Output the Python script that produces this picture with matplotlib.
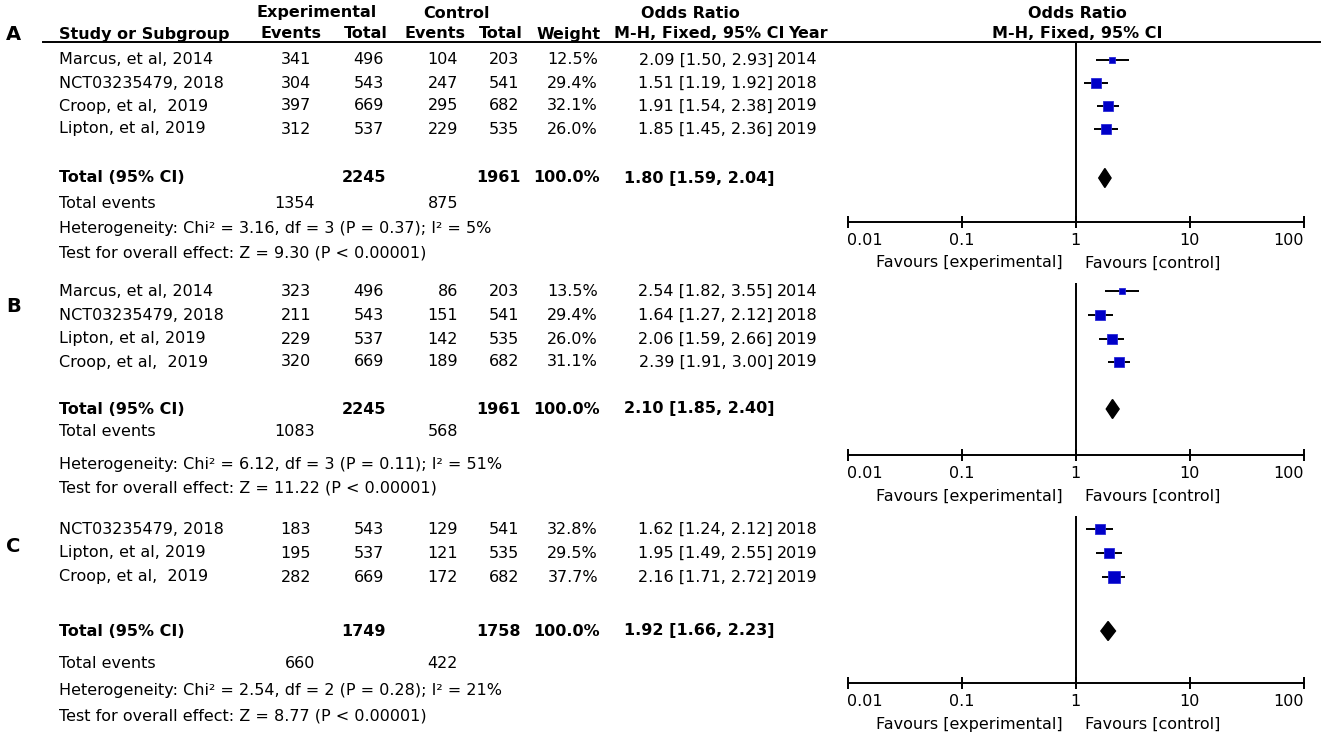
import matplotlib
matplotlib.use("Agg")
import matplotlib.pyplot as plt

# ---- data -------------------------------------------------------------
panel_labels = ["A", "B", "C"]

studies_a = ["Marcus, et al, 2014", "NCT03235479, 2018", "Croop, et al,  2019", "Lipton, et al, 2019"]
exp_events_a = [341, 304, 397, 312]
exp_total_a = [496, 543, 669, 537]
ctl_events_a = [104, 247, 295, 229]
ctl_total_a = [203, 541, 682, 535]
weight_a = [12.5, 29.4, 32.1, 26.0]
or_a = [2.09, 1.51, 1.91, 1.85]
lo_a = [1.50, 1.19, 1.54, 1.45]
hi_a = [2.93, 1.92, 2.38, 2.36]
year_a = [2014, 2018, 2019, 2019]
pooled_a = [1.80, 1.59, 2.04]
totals_a = [2245, 1961]
tot_events_a = [1354, 875]
het_a = "Heterogeneity: Chi² = 3.16, df = 3 (P = 0.37); I² = 5%"
test_a = "Test for overall effect: Z = 9.30 (P < 0.00001)"

studies_b = ["Marcus, et al, 2014", "NCT03235479, 2018", "Lipton, et al, 2019", "Croop, et al,  2019"]
exp_events_b = [323, 211, 229, 320]
exp_total_b = [496, 543, 537, 669]
ctl_events_b = [86, 151, 142, 189]
ctl_total_b = [203, 541, 535, 682]
weight_b = [13.5, 29.4, 26.0, 31.1]
or_b = [2.54, 1.64, 2.06, 2.39]
lo_b = [1.82, 1.27, 1.59, 1.91]
hi_b = [3.55, 2.12, 2.66, 3.00]
year_b = [2014, 2018, 2019, 2019]
pooled_b = [2.10, 1.85, 2.40]
totals_b = [2245, 1961]
tot_events_b = [1083, 568]
het_b = "Heterogeneity: Chi² = 6.12, df = 3 (P = 0.11); I² = 51%"
test_b = "Test for overall effect: Z = 11.22 (P < 0.00001)"

studies_c = ["NCT03235479, 2018", "Lipton, et al, 2019", "Croop, et al,  2019"]
exp_events_c = [183, 195, 282]
exp_total_c = [543, 537, 669]
ctl_events_c = [129, 121, 172]
ctl_total_c = [541, 535, 682]
weight_c = [32.8, 29.5, 37.7]
or_c = [1.62, 1.95, 2.16]
lo_c = [1.24, 1.49, 1.71]
hi_c = [2.12, 2.55, 2.72]
year_c = [2018, 2019, 2019]
pooled_c = [1.92, 1.66, 2.23]
totals_c = [1749, 1758]
tot_events_c = [660, 422]
het_c = "Heterogeneity: Chi² = 2.54, df = 2 (P = 0.28); I² = 21%"
test_c = "Test for overall effect: Z = 8.77 (P < 0.00001)"

ticks = [0.01, 0.1, 1, 10, 100]
tick_labels = ["0.01", "0.1", "1", "10", "100"]

panels = [
    dict(studies=studies_a, ee=exp_events_a, et=exp_total_a, ce=ctl_events_a, ct=ctl_total_a,
         w=weight_a, est=or_a, lo=lo_a, hi=hi_a, year=year_a, pooled=pooled_a,
         totals=totals_a, events=tot_events_a, het=het_a, test=test_a),
    dict(studies=studies_b, ee=exp_events_b, et=exp_total_b, ce=ctl_events_b, ct=ctl_total_b,
         w=weight_b, est=or_b, lo=lo_b, hi=hi_b, year=year_b, pooled=pooled_b,
         totals=totals_b, events=tot_events_b, het=het_b, test=test_b),
    dict(studies=studies_c, ee=exp_events_c, et=exp_total_c, ce=ctl_events_c, ct=ctl_total_c,
         w=weight_c, est=or_c, lo=lo_c, hi=hi_c, year=year_c, pooled=pooled_c,
         totals=totals_c, events=tot_events_c, het=het_c, test=test_c),
]

# ---- layout (pixels) --------------------------------------------------
W, H = 1325, 741
layout = [
    dict(letter_y=34, rows=[60, 83, 106, 129], total_y=178, events_y=204, het_y=229, test_y=253,
         top=42, axis_y=222),
    dict(letter_y=307, rows=[291, 315, 339, 362], total_y=409, events_y=432, het_y=464, test_y=488,
         top=283, axis_y=455),
    dict(letter_y=547, rows=[529, 553, 577], total_y=631, events_y=663, het_y=690, test_y=716,
         top=516, axis_y=683),
]
X_NAME = 59
X_EE, X_ET, X_CE, X_CT, X_W, X_OR, X_YEAR = 311, 384, 458, 519, 598, 773, 818
FX0, FX1 = 847.5, 1304
FS = 11.5
BLUE = "#0000C8"

plt.rcParams["font.family"] = ["DejaVu Sans"]
fig = plt.figure(figsize=(W / 100, H / 100), dpi=100)
ax = fig.add_axes([0, 0, 1, 1])
ax.set_xlim(0, W)
ax.set_ylim(H, 0)
ax.axis("off")


def txt(x, y, s, ha="left", bold=False, size=FS):
    ax.text(x, y, s, ha=ha, va="center", fontsize=size,
            fontweight="bold" if bold else "normal", color="black")


# header
txt(317, 13, "Experimental", ha="center", bold=True)
txt(457, 13, "Control", ha="center", bold=True)
txt(690, 13, "Odds Ratio", ha="center", bold=True)
txt(1077, 13, "Odds Ratio", ha="center", bold=True)
txt(X_NAME, 34, "Study or Subgroup", bold=True)
txt(321, 34, "Events", ha="right", bold=True)
txt(388, 34, "Total", ha="right", bold=True)
txt(466, 34, "Events", ha="right", bold=True)
txt(523, 34, "Total", ha="right", bold=True)
txt(601, 34, "Weight", ha="right", bold=True)
txt(784, 34, "M-H, Fixed, 95% CI", ha="right", bold=True)
txt(788, 34, "Year", bold=True)
txt(1077, 34, "M-H, Fixed, 95% CI", ha="center", bold=True)
ax.plot([43, 1320], [42, 42], color="black", lw=1.4)

for letter, p, lay in zip(panel_labels, panels, layout):
    txt(6, lay["letter_y"], letter, bold=True, size=14)
    for i, y in enumerate(lay["rows"]):
        txt(X_NAME, y, p["studies"][i])
        txt(X_EE, y, str(p["ee"][i]), ha="right")
        txt(X_ET, y, str(p["et"][i]), ha="right")
        txt(X_CE, y, str(p["ce"][i]), ha="right")
        txt(X_CT, y, str(p["ct"][i]), ha="right")
        txt(X_W, y, f"{p['w'][i]:.1f}%", ha="right")
        txt(X_OR, y, f"{p['est'][i]:.2f} [{p['lo'][i]:.2f}, {p['hi'][i]:.2f}]", ha="right")
        txt(X_YEAR, y, str(p["year"][i]), ha="right")
    ty = lay["total_y"]
    txt(X_NAME, ty, "Total (95% CI)", bold=True)
    txt(X_ET + 2, ty, str(p["totals"][0]), ha="right", bold=True)
    txt(X_CT + 2, ty, str(p["totals"][1]), ha="right", bold=True)
    txt(X_W + 2, ty, "100.0%", ha="right", bold=True)
    est, lo, hi = p["pooled"]
    txt(X_OR + 2, ty, f"{est:.2f} [{lo:.2f}, {hi:.2f}]", ha="right", bold=True)
    txt(X_NAME, lay["events_y"], "Total events")
    txt(X_EE + 4, lay["events_y"], str(p["events"][0]), ha="right")
    txt(X_CE, lay["events_y"], str(p["events"][1]), ha="right")
    txt(X_NAME, lay["het_y"], p["het"])
    txt(X_NAME, lay["test_y"], p["test"])

    # forest axes: y in figure pixels so rows line up with the table
    top, bot = lay["top"], lay["axis_y"]
    fa = fig.add_axes([FX0 / W, 1 - bot / H, (FX1 - FX0) / W, (bot - top) / H])
    fa.patch.set_visible(False)
    fa.set_xscale("log")
    fa.set_xlim(0.01, 100)
    fa.set_ylim(bot, top)
    for s in ["top", "left", "right"]:
        fa.spines[s].set_visible(False)
    fa.spines["bottom"].set_linewidth(1.4)
    fa.set_yticks([])
    fa.set_xticks(ticks)
    fa.set_xticklabels(tick_labels, fontsize=FS)
    fa.minorticks_off()
    fa.tick_params(axis="x", direction="inout", length=9, width=1.4, pad=3.5)
    labs = fa.get_xticklabels()
    labs[0].set_ha("left")
    labs[-1].set_ha("right")
    fa.axvline(1, color="black", lw=1.4)
    for i, y in enumerate(lay["rows"]):
        fa.hlines(y, p["lo"][i], p["hi"][i], color="black", lw=1.4)
        side = 1.85 * p["w"][i] ** 0.5
        fa.plot(p["est"][i], y, marker="s", ms=side * 0.72, color=BLUE,
                mec="#2828D8", mew=0.6, clip_on=False)
    dh = 9.5
    fa.fill([lo, est, hi, est], [ty, ty - dh, ty, ty + dh], color="black", clip_on=False)

    fy = bot + 41
    txt(1063, fy, "Favours [experimental]", ha="right")
    txt(1085, fy, "Favours [control]")

fig.savefig("out.png", dpi=100)
